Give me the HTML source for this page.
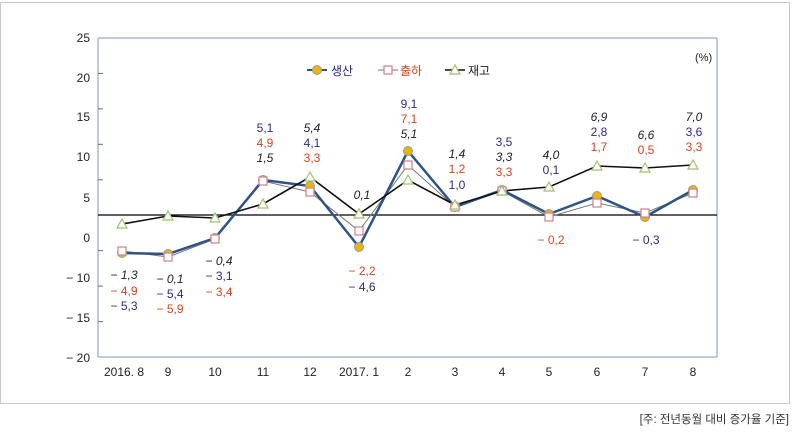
<!DOCTYPE html>
<html><head><meta charset="utf-8"><style>
html,body{margin:0;padding:0;background:#fff;}
svg{display:block;font-family:"Liberation Sans","Noto Sans CJK KR",sans-serif;}
</style></head><body>
<svg width="795" height="436" viewBox="0 0 795 436" xmlns="http://www.w3.org/2000/svg">
<rect x="0.5" y="2.5" width="789" height="401" fill="#fff" stroke="#c8c8c8"/>
<!-- plot frame -->
<line x1="98" y1="38" x2="717" y2="38" stroke="#a9b9d6" stroke-width="1.5"/>
<line x1="717" y1="38" x2="717" y2="357" stroke="#a9b9d6" stroke-width="1.5"/>
<line x1="98" y1="357" x2="717" y2="357" stroke="#a9b9d6" stroke-width="1.5"/>
<line x1="98" y1="38" x2="98" y2="357" stroke="#a9b9d6" stroke-width="1.5"/>
<g stroke="#5a6e9a" stroke-width="1">
<line x1="98" y1="73.4" x2="103" y2="73.4"/><line x1="98" y1="108.9" x2="103" y2="108.9"/>
<line x1="98" y1="144.3" x2="103" y2="144.3"/><line x1="98" y1="179.8" x2="103" y2="179.8"/>
<line x1="98" y1="250.7" x2="103" y2="250.7"/><line x1="98" y1="286.1" x2="103" y2="286.1"/>
<line x1="98" y1="321.6" x2="103" y2="321.6"/>
</g>
<g font-size="12" fill="#222" text-anchor="end">
<text x="90" y="42">25</text><text x="90" y="82">20</text><text x="90" y="121">15</text>
<text x="90" y="161">10</text><text x="90" y="202">5</text><text x="90" y="242">0</text>
<text x="90" y="282">− 10</text><text x="90" y="322">− 15</text><text x="90" y="362">− 20</text>
</g>
<g font-size="12" fill="#222" text-anchor="middle">
<text x="124" y="376">2016. 8</text><text x="168" y="376">9</text><text x="215" y="376">10</text>
<text x="263" y="376">11</text><text x="310" y="376">12</text><text x="359" y="376">2017. 1</text>
<text x="408" y="376">2</text><text x="455" y="376">3</text><text x="502" y="376">4</text>
<text x="549" y="376">5</text><text x="597" y="376">6</text><text x="645" y="376">7</text><text x="693" y="376">8</text>
</g>
<line x1="98" y1="215" x2="717" y2="215" stroke="#000" stroke-width="1.2"/>
<!-- 출하 line -->
<polyline fill="none" stroke="#777" stroke-width="1" points="122,251 168,257 215,239 263,181 310,192 359,231 408,165 455,207 502,191 549,217 597,203 645,213 693,193"/>
<!-- 생산 line -->
<polyline fill="none" stroke="#2e5487" stroke-width="2.5" points="122,253 168,254 215,238 263,180 310,186 359,247 408,151 455,207 502,190 549,214 597,196 645,217 693,190"/>
<!-- 재고 line -->
<polyline fill="none" stroke="#111" stroke-width="1.6" points="122,224 168,216 215,218 263,204 310,177 359,214 408,180 455,205 502,191 549,187 597,166 645,168 693,165"/>
<g fill="#f0b400" stroke="#8aa0c0" stroke-width="1">
<circle cx="122" cy="253" r="4.5"/><circle cx="168" cy="254" r="4.5"/><circle cx="215" cy="238" r="4.5"/><circle cx="263" cy="180" r="4.5"/><circle cx="310" cy="186" r="4.5"/><circle cx="359" cy="247" r="4.5"/><circle cx="408" cy="151" r="4.5"/><circle cx="455" cy="207" r="4.5"/><circle cx="502" cy="190" r="4.5"/><circle cx="549" cy="214" r="4.5"/><circle cx="597" cy="196" r="4.5"/><circle cx="645" cy="217" r="4.5"/><circle cx="693" cy="190" r="4.5"/>
</g>
<g fill="#fff" stroke="#d08080" stroke-width="1.2">
<rect x="118" y="247" width="8" height="8"/><rect x="164" y="253" width="8" height="8"/><rect x="211" y="235" width="8" height="8"/><rect x="259" y="177" width="8" height="8"/><rect x="306" y="188" width="8" height="8"/><rect x="355" y="227" width="8" height="8"/><rect x="404" y="161" width="8" height="8"/><rect x="451" y="203" width="8" height="8"/><rect x="498" y="187" width="8" height="8"/><rect x="545" y="213" width="8" height="8"/><rect x="593" y="199" width="8" height="8"/><rect x="641" y="209" width="8" height="8"/><rect x="689" y="189" width="8" height="8"/>
</g>
<g fill="#fff" stroke="#a0c070" stroke-width="1.2">
<polygon points="122,219 117,228 127,228"/><polygon points="168,211 163,220 173,220"/><polygon points="215,213 210,222 220,222"/><polygon points="263,199 258,208 268,208"/><polygon points="310,172 305,181 315,181"/><polygon points="359,209 354,218 364,218"/><polygon points="408,175 403,184 413,184"/><polygon points="455,200 450,209 460,209"/><polygon points="502,186 497,195 507,195"/><polygon points="549,182 544,191 554,191"/><polygon points="597,161 592,170 602,170"/><polygon points="645,163 640,172 650,172"/><polygon points="693,160 688,169 698,169"/>
</g>
<!-- legend -->
<line x1="307" y1="70" x2="327" y2="70" stroke="#2e5487" stroke-width="2"/><circle cx="317" cy="70" r="4.5" fill="#f0b400" stroke="#8aa0c0"/>
<text x="331" y="75" font-size="12" fill="#2a2a8a">생산</text>
<line x1="378" y1="70" x2="398" y2="70" stroke="#777"/><rect x="384" y="66" width="8" height="8" fill="#fff" stroke="#d08080" stroke-width="1.2"/>
<text x="400" y="75" font-size="12" fill="#e0401a">출하</text>
<line x1="445" y1="70" x2="465" y2="70" stroke="#111" stroke-width="1.5"/><polygon points="455,65 450,74 460,74" fill="#fff" stroke="#a0c070" stroke-width="1.2"/>
<text x="468" y="75" font-size="12" fill="#222">재고</text>
<text x="695" y="61" font-size="11" fill="#222">(%)</text>
<!-- data labels -->
<g font-size="12" text-anchor="middle">
<text x="124" y="279" fill="#222" font-style="italic">− 1,3</text><text x="124" y="295" fill="#e0401a">− 4,9</text><text x="124" y="310" fill="#2a2a8a">− 5,3</text>
<text x="170" y="283" fill="#222" font-style="italic">− 0,1</text><text x="170" y="298" fill="#2a2a8a">− 5,4</text><text x="170" y="313" fill="#e0401a">− 5,9</text>
<text x="219" y="265" fill="#222" font-style="italic">− 0,4</text><text x="219" y="280" fill="#2a2a8a">− 3,1</text><text x="219" y="296" fill="#e0401a">− 3,4</text>
<text x="265" y="132" fill="#2a2a8a">5,1</text><text x="265" y="147" fill="#e0401a">4,9</text><text x="265" y="162" fill="#222" font-style="italic">1,5</text>
<text x="312" y="132" fill="#222" font-style="italic">5,4</text><text x="312" y="147" fill="#2a2a8a">4,1</text><text x="312" y="162" fill="#e0401a">3,3</text>
<text x="362" y="199" fill="#222" font-style="italic">0,1</text>
<text x="362" y="275" fill="#e0401a">− 2,2</text><text x="362" y="291" fill="#2a2a8a">− 4,6</text>
<text x="409" y="108" fill="#2a2a8a">9,1</text><text x="409" y="123" fill="#e0401a">7,1</text><text x="409" y="138" fill="#222" font-style="italic">5,1</text>
<text x="457" y="158" fill="#222" font-style="italic">1,4</text><text x="457" y="173" fill="#e0401a">1,2</text><text x="457" y="189" fill="#2a2a8a">1,0</text>
<text x="504" y="146" fill="#2a2a8a">3,5</text><text x="504" y="161" fill="#222" font-style="italic">3,3</text><text x="504" y="176" fill="#e0401a">3,3</text>
<text x="551" y="159" fill="#222" font-style="italic">4,0</text><text x="551" y="174" fill="#2a2a8a">0,1</text>
<text x="551" y="244" fill="#e0401a">− 0,2</text>
<text x="599" y="121" fill="#222" font-style="italic">6,9</text><text x="599" y="136" fill="#2a2a8a">2,8</text><text x="599" y="151" fill="#e0401a">1,7</text>
<text x="646" y="139" fill="#222" font-style="italic">6,6</text><text x="646" y="154" fill="#e0401a">0,5</text>
<text x="646" y="244" fill="#2a2a8a">− 0,3</text>
<text x="694" y="121" fill="#222" font-style="italic">7,0</text><text x="694" y="136" fill="#2a2a8a">3,6</text><text x="694" y="151" fill="#e0401a">3,3</text>
</g>
<text x="789" y="423" font-size="11.5" fill="#333" text-anchor="end">[주: 전년동월 대비 증가율 기준]</text>
</svg>
</body></html>
